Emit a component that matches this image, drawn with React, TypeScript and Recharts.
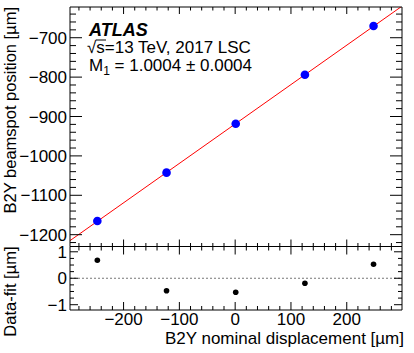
import { ComposedChart, Scatter, Line, XAxis, YAxis, ReferenceLine } from 'recharts'

// B2Y scan points
const nominal = [-247, -123, 1, 125, 248]
const position = [-1165.4, -1042.5, -918.5, -794.1, -670.4]
const residual = [0.68, -0.47, -0.53, -0.19, 0.53]

// linear fit
const fitSlope = 1.0004
const fitIntercept = -919

const X_DOMAIN = [-296, 299]
const Y_DOMAIN = [-1230, -622]
const R_DOMAIN = [-1.2, 1.2]

const xMajor = [-200, -100, 0, 100, 200]
const yMajor = [-1200, -1100, -1000, -900, -800, -700]
const rMajor = [-1, 0, 1]

const FONT = '"Liberation Sans", Arial, Helvetica, sans-serif'

const steps = (from: number, to: number, step: number) => {
  const out: number[] = []
  for (let v = from; v <= to + 1e-9; v += step) out.push(Math.round(v * 1000) / 1000)
  return out
}
const xTicks = steps(-280, 280, 20)
const yTicks = steps(-1220, -640, 20)
const rTicks = steps(-1, 1, 0.25)

const fmt = (v: number) => (v < 0 ? '\u2212' + Math.abs(v) : String(v))

type Side = 'left' | 'right' | 'top' | 'bottom'

function makeTick(side: Side, majors: number[], majorLen: number, minorLen: number, label: boolean) {
  return (p: any) => {
    const v = p.payload.value
    const major = majors.some((m) => Math.abs(m - v) < 1e-6)
    const len = major ? majorLen : minorLen
    const { x, y } = p
    let x2 = x
    let y2 = y
    if (side === 'left') x2 = x + len
    if (side === 'right') x2 = x - len
    if (side === 'bottom') y2 = y - len
    if (side === 'top') y2 = y + len
    return (
      <g>
        <line x1={x} y1={y} x2={x2} y2={y2} stroke="#000" strokeWidth={1} />
        {label && major && side === 'left' && (
          <text x={x - 3} y={y} dy={6} textAnchor="end" fontSize={17} fontFamily={FONT} fill="#000">
            {fmt(v)}
          </text>
        )}
        {label && major && side === 'bottom' && (
          <text x={x} y={y} dy={15} textAnchor="middle" fontSize={17} fontFamily={FONT} fill="#000">
            {fmt(v)}
          </text>
        )}
      </g>
    )
  }
}

const axisCommon = {
  type: 'number' as const,
  allowDataOverflow: true,
  interval: 0 as const,
  tickSize: 0,
  tickMargin: 0,
  tickLine: false,
  axisLine: { stroke: '#000', strokeWidth: 1 },
}

export default function App() {
  const points = nominal.map((x, i) => ({ x, y: position[i] }))
  const resid = nominal.map((x, i) => ({ x, y: residual[i] }))
  const fitLine = X_DOMAIN.map((x) => ({ x, y: fitSlope * x + fitIntercept }))

  return (
    <div style={{ position: 'absolute', left: 0, top: 0, width: 414, height: 353, background: '#fff' }}>
      <div style={{ position: 'absolute', left: 0, top: 0 }}>
        <ComposedChart width={414} height={250} margin={{ top: 6, right: 11, bottom: 2.5, left: 10 }}>
          <XAxis xAxisId="b" dataKey="x" orientation="bottom" height={1} domain={X_DOMAIN} ticks={xTicks} tick={makeTick('bottom', xMajor, 7, 3.5, false)} {...axisCommon} />
          <XAxis xAxisId="t" dataKey="x" orientation="top" height={1} domain={X_DOMAIN} ticks={xTicks} tick={makeTick('top', xMajor, 7, 3.5, false)} {...axisCommon} />
          <YAxis yAxisId="l" orientation="left" width={60} domain={Y_DOMAIN} ticks={yTicks} tick={makeTick('left', yMajor, 12, 6, true)} {...axisCommon} />
          <YAxis yAxisId="r" orientation="right" width={1} domain={Y_DOMAIN} ticks={yTicks} tick={makeTick('right', yMajor, 12, 6, false)} {...axisCommon} />
          <Line xAxisId="b" yAxisId="l" data={fitLine} dataKey="y" stroke="#ff0000" strokeWidth={1} dot={false} isAnimationActive={false} />
          <Scatter
            xAxisId="b"
            yAxisId="l"
            data={points}
            dataKey="y"
            isAnimationActive={false}
            shape={(p: any) => <circle cx={p.cx} cy={p.cy} r={4.3} fill="#0000ff" />}
          />
        </ComposedChart>
      </div>
      <div style={{ position: 'absolute', left: 0, top: 240 }}>
        <ComposedChart width={414} height={113} margin={{ top: 5.5, right: 11, bottom: 0, left: 10 }}>
          <XAxis xAxisId="b" dataKey="x" orientation="bottom" height={43} domain={X_DOMAIN} ticks={xTicks} tick={makeTick('bottom', xMajor, 8, 4, true)} {...axisCommon} />
          <XAxis xAxisId="t" dataKey="x" orientation="top" height={1} domain={X_DOMAIN} ticks={xTicks} tick={makeTick('top', xMajor, 8, 4, false)} {...axisCommon} />
          <YAxis yAxisId="l" orientation="left" width={60} domain={R_DOMAIN} ticks={rTicks} tick={makeTick('left', rMajor, 8, 4, true)} {...axisCommon} />
          <YAxis yAxisId="r" orientation="right" width={1} domain={R_DOMAIN} ticks={rTicks} tick={makeTick('right', rMajor, 8, 4, false)} {...axisCommon} />
          <ReferenceLine xAxisId="b" yAxisId="l" y={0} stroke="#777" strokeWidth={1} strokeDasharray="2 2" />
          <Scatter
            xAxisId="b"
            yAxisId="l"
            data={resid}
            dataKey="y"
            isAnimationActive={false}
            shape={(p: any) => <circle cx={p.cx} cy={p.cy} r={2.8} fill="#000" />}
          />
        </ComposedChart>
      </div>
      <svg width={414} height={353} style={{ position: 'absolute', left: 0, top: 0, pointerEvents: 'none' }} fontFamily={FONT}>
        <text x={89} y={35.5} fontSize={18} fontWeight="bold" fontStyle="italic" fill="#000">ATLAS</text>
        <text x={87} y={53} fontSize={17} fill="#000">
          {'\u221As=13 TeV, 2017 LSC'}
        </text>
        <line x1={96} y1={40} x2={106} y2={40} stroke="#000" strokeWidth={1} />
        <text x={89} y={71} fontSize={17} fill="#000">
          M<tspan fontSize={12} dy={4}>1</tspan>
          <tspan dy={-4}> = 1.0004 ± 0.0004</tspan>
        </text>
        <text x={16} y={7} transform="rotate(-90, 16, 7)" textAnchor="end" fontSize={16.5} fill="#000">
          B2Y beamspot position [µm]
        </text>
        <text x={16} y={246.5} transform="rotate(-90, 16, 246.5)" textAnchor="end" fontSize={16.5} fill="#000">
          Data-fit [µm]
        </text>
        <text x={404} y={344} textAnchor="end" fontSize={17} fill="#000">
          B2Y nominal displacement [µm]
        </text>
      </svg>
    </div>
  )
}
